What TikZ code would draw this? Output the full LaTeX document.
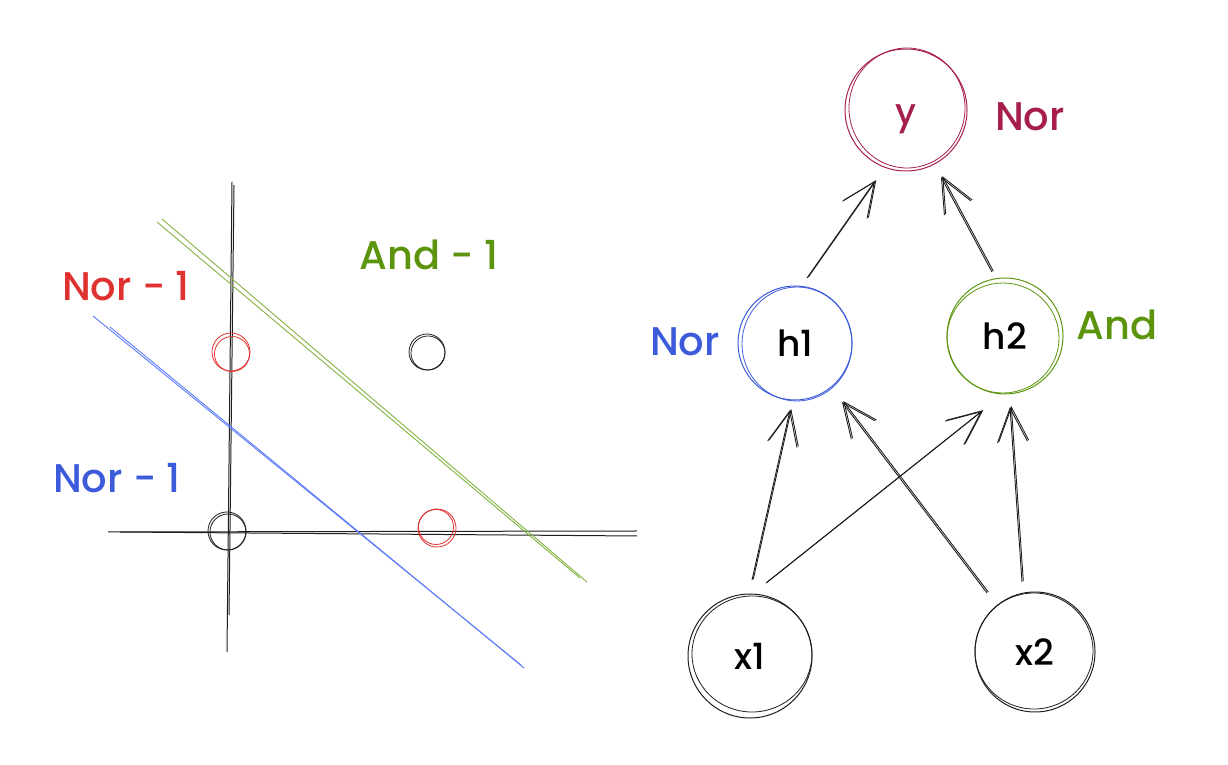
\documentclass[tikz,border=0pt]{standalone}
\usepackage{fontspec}
\setmainfont{Poppins Medium}
\usetikzlibrary{arrows.meta,calc}
\definecolor{cred}{HTML}{E03131}
\definecolor{cblue}{HTML}{3B5BDB}
\definecolor{clblue}{HTML}{5C7CFA}
\definecolor{cgreen}{HTML}{5C940D}
\definecolor{clgreen}{HTML}{82B341}
\definecolor{ccrim}{HTML}{A61E4D}
\definecolor{cink}{HTML}{1E1E1E}
\newcommand\sketchline[3]{%
  \draw[#1] #2 -- #3;
  \draw[#1,transform canvas={shift={(1.3pt,0.9pt)}}] #2 -- #3;}
\begin{document}
\begin{tikzpicture}[x=1pt,y=1pt,
  lbl/.style={font=\fontsize{40}{44}\selectfont, inner sep=0pt},
  neuron/.style={circle, draw, line width=1pt, minimum size=#1, inner sep=0pt,
    font=\fontsize{36}{40}\selectfont},
  ring/.style={line width=0.8pt},
  axisline/.style={cink, line width=1pt},
  arr/.style={cink, line width=0.9pt,
    -{Straight Barb[length=34pt,width=30pt,line width=0.9pt]}},
]
\useasboundingbox (0,0) rectangle (1228,765);

% ---------- left: plot ----------
\draw[axisline] (232,583) -- (227,113);
\draw[axisline] (234,580) -- (229,150);
\draw[axisline] (108,233) -- (637,234);
\draw[axisline] (120,233) -- (637,229);
\draw[clgreen, line width=0.9pt] (157,543) -- (580,187);
\draw[clgreen, line width=0.9pt] (162,546) -- (587,183);
\draw[clblue, line width=0.9pt] (93,449) -- (521,100);
\draw[clblue, line width=0.9pt] (110,438) -- (524,97);

\draw[cred, ring] (231,413) circle (19);
\draw[cred, ring] (232,411) circle (17.5);
\draw[cink, ring] (427,413) circle (18);
\draw[cink, ring] (428,412) circle (17);
\draw[cink, ring] (227,234) circle (19);
\draw[cink, ring] (228,233) circle (18);
\draw[cred, ring] (437,237) circle (19);
\draw[cred, ring] (436,238) circle (17.5);

\node[lbl, text=cred]   (lnor1) at (126,479) {Nor - 1};
\node[lbl, text=cgreen] (land1) at (429,510) {And - 1};
\node[lbl, text=cblue]  (lnor2) at (117,287) {Nor - 1};

% ---------- right: network ----------
\node[neuron=122pt, draw=ccrim, text=ccrim] (y)  at (906,655) {\smash{\raisebox{-15pt}{y}}};
\node[neuron=114pt, draw=cblue]  (h1) at (795,422) {h1};
\node[neuron=116pt, draw=cgreen] (h2) at (1005,429) {h2};
\node[neuron=124pt, draw=cink]   (x1) at (750,109) {x1};
\node[neuron=120pt, draw=cink]   (x2) at (1035,113) {x2};

\draw[ccrim, ring] ($(y)+(1,2)$) ellipse (58 and 60);
\draw[cblue, ring] ($(h1)+(2,-1)$) ellipse (55 and 57);
\draw[cgreen, ring] ($(h2)+(-2,-2)$) ellipse (56 and 55);
\draw[cink, ring] ($(x1)+(2,2)$) ellipse (60 and 58);
\draw[cink, ring] ($(x2)+(-1,1)$) ellipse (59 and 58);

\node[lbl, text=ccrim]  (ny)  at (1030,648) {Nor};
\node[lbl, text=cblue]  (nh1) at (685,423) {Nor};
\node[lbl, text=cgreen] (ah2) at (1117,440) {And};

\sketchline{arr}{($(h1)+(12,65)$)}{($(y)+(-31,-71)$)}
\sketchline{arr}{($(h2)+(-13,64)$)}{($(y)+(35,-67)$)}
\sketchline{arr}{($(x1)+(2,76)$)}{($(h1)+(-5,-67)$)}
\sketchline{arr}{($(x1)+(16,73)$)}{($(h2)+(-23,-75)$)}
\sketchline{arr}{($(x2)+(-48,59)$)}{($(h1)+(47,-59)$)}
\sketchline{arr}{($(x2)+(-13,70)$)}{($(h2)+(5,-71)$)}
\end{tikzpicture}
\end{document}
